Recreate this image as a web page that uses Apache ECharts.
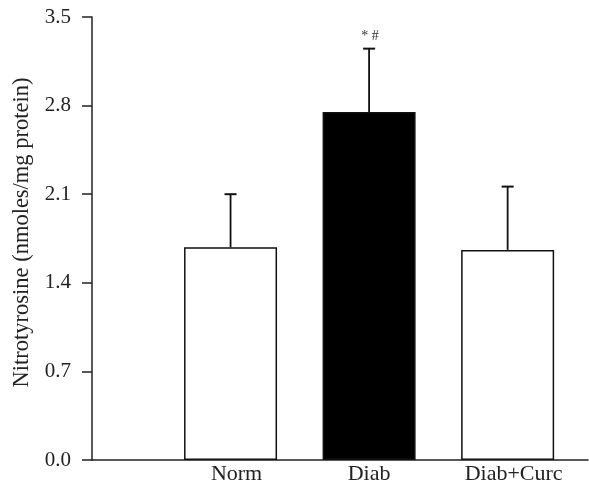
<!DOCTYPE html>
<html>
<head>
<meta charset="utf-8">
<script src="https://cdn.jsdelivr.net/npm/echarts@6/dist/echarts.min.js"></script>
<style>
html,body{margin:0;padding:0;background:#fff;}
#chart{width:589px;height:486px;}
</style>
</head>
<body>
<div id="chart"></div>
<script>
// ---- data ----
var categories = ['Norm', 'Diab', 'Diab+Curc'];
var positions = [1, 2, 3];
var means = [1.68, 2.75, 1.66];
var errors = [0.42, 0.50, 0.50];
var annotations = ['', '* #', ''];
var yTicks = [0, 0.7, 1.4, 2.1, 2.8, 3.5];
var fills = ['#ffffff', '#000000', '#ffffff'];

var chart = echarts.init(document.getElementById('chart'));
var font = '"Liberation Serif", "Times New Roman", serif';

var barData = positions.map(function (p, i) {
  return { value: [p, means[i]], itemStyle: { color: fills[i] } };
});
var errData = positions.map(function (p, i) {
  return [p, means[i], errors[i], i];
});

var option = {
  animation: false,
  backgroundColor: '#fff',
  grid: { left: 92, right: 1, top: 17, bottom: 26, containLabel: false, outerBoundsMode: 'none' },
  xAxis: {
    type: 'value',
    min: 0,
    max: 3.58,
    interval: 1,
    axisLine: { show: true, lineStyle: { color: '#222', width: 1.5 } },
    axisTick: { show: false },
    splitLine: { show: false },
    axisLabel: {
      margin: 3,
      fontFamily: font,
      fontSize: 22,
      color: '#222',
      showMaxLabel: false,
      formatter: function (v) {
        var idx = positions.indexOf(v);
        if (idx < 0) return '';
        if (idx === 1) return categories[idx];
        return '{s|' + categories[idx] + '}';
      },
      rich: { s: { fontFamily: font, fontSize: 22, color: '#222', padding: [0, 0, 0, 12] } }
    }
  },
  yAxis: {
    type: 'value',
    min: yTicks[0],
    max: yTicks[yTicks.length - 1],
    interval: 0.7,
    name: 'Nitrotyrosine (nmoles/mg protein)',
    nameLocation: 'middle',
    nameGap: 57,
    nameTextStyle: { fontFamily: font, fontSize: 22.5, color: '#222', padding: [0, 0, 0, 12] },
    axisLine: { show: true, lineStyle: { color: '#222', width: 1.5 } },
    axisTick: { show: true, inside: false, length: 10, lineStyle: { color: '#222', width: 1.5 } },
    splitLine: { show: false },
    axisLabel: {
      margin: 21,
      fontFamily: font,
      fontSize: 21,
      color: '#222',
      formatter: function (v) { return v.toFixed(1); }
    }
  },
  series: [
    {
      type: 'bar',
      barWidth: 93,
      data: barData,
      itemStyle: { borderColor: '#111', borderWidth: 1.5 }
    },
    {
      type: 'custom',
      data: errData,
      z: 5,
      renderItem: function (params, api) {
        var x = api.value(0), m = api.value(1), e = api.value(2), i = api.value(3);
        var p0 = api.coord([x, m]);
        var p1 = api.coord([x, m + e]);
        var half = 6;
        var children = [
          { type: 'line', shape: { x1: p0[0], y1: p0[1], x2: p1[0], y2: p1[1] }, style: { stroke: '#111', lineWidth: 1.8 } },
          { type: 'line', shape: { x1: p1[0] - half, y1: p1[1], x2: p1[0] + half, y2: p1[1] }, style: { stroke: '#111', lineWidth: 2 } }
        ];
        if (annotations[i]) {
          children.push({
            type: 'text',
            style: {
              x: p1[0] + 1, y: p1[1] - 5,
              text: annotations[i],
              fill: '#333',
              font: '14px ' + font,
              textAlign: 'center',
              textVerticalAlign: 'bottom'
            }
          });
        }
        return { type: 'group', children: children };
      }
    }
  ]
};
chart.setOption(option);
</script>
</body>
</html>
